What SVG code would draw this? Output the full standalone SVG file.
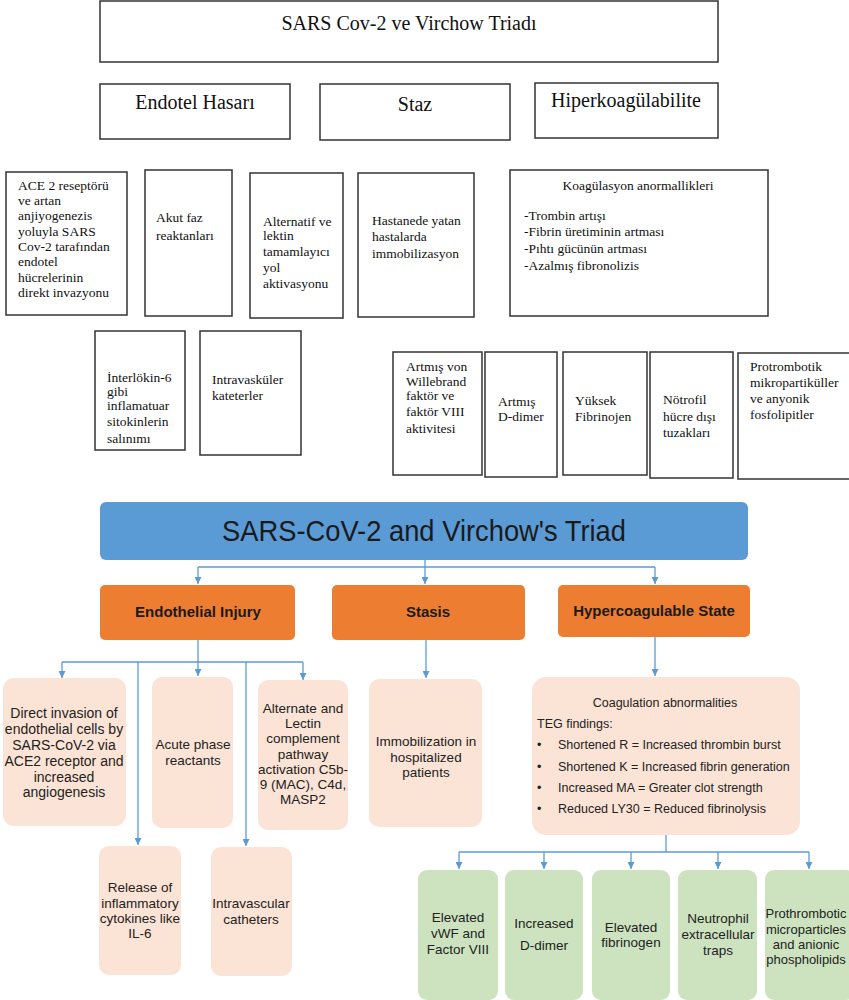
<svg xmlns="http://www.w3.org/2000/svg" width="849" height="1000" viewBox="0 0 849 1000">
<style>
.tb{fill:#fff;stroke:#333;stroke-width:1.5}
.tt{font-family:"Liberation Serif","Times New Roman",serif;font-size:20px;fill:#111}
.ts{font-family:"Liberation Serif","Times New Roman",serif;font-size:13.5px;fill:#111}
.en{font-family:"Liberation Sans",Arial,sans-serif;font-size:13.5px;fill:#222;text-anchor:middle}
.el{font-family:"Liberation Sans",Arial,sans-serif;font-size:12.5px;fill:#222}
.peach{fill:#fbe4d5}
.green{fill:#cde3bf}
.orange{fill:#ed7d31}
.ob{font-family:"Liberation Sans",Arial,sans-serif;font-size:15px;font-weight:bold;fill:#1a1a1a;text-anchor:middle}
.con{fill:none;stroke:#5b9bd5;stroke-width:1.3}
.arr{fill:none;stroke:#5b9bd5;stroke-width:1.3;marker-end:url(#ah)}
</style>
<defs>
<marker id="ah" viewBox="0 0 10 10" refX="10" refY="5" markerWidth="7" markerHeight="7" markerUnits="userSpaceOnUse" orient="auto">
<path d="M0,0 L10,5 L0,10 Z" fill="#5b9bd5"/>
</marker>
</defs>

<!-- Turkish section -->
<g id="tr-title"><rect class="tb" x="100" y="1" width="618" height="61"/><text class="tt" x="409" y="30" text-anchor="middle">SARS Cov-2 ve Virchow Triadı</text></g>
<g id="tr-endotel"><rect class="tb" x="100" y="84" width="190" height="55"/><text class="tt" x="195" y="109" text-anchor="middle">Endotel Hasarı</text></g>
<g id="tr-staz"><rect class="tb" x="320" y="84" width="190" height="56"/><text class="tt" x="415" y="111" text-anchor="middle">Staz</text></g>
<g id="tr-hiper"><rect class="tb" x="535" y="83" width="183" height="55"/><text class="tt" x="626" y="107" text-anchor="middle">Hiperkoagülabilite</text></g>

<g id="tr-ace"><rect class="tb" x="6" y="172" width="121" height="143"/>
<text class="ts"><tspan x="18" y="190">ACE 2 reseptörü</tspan><tspan x="18" y="205">ve artan</tspan><tspan x="18" y="220">anjiyogenezis</tspan><tspan x="18" y="236">yoluyla SARS</tspan><tspan x="18" y="251">Cov-2 tarafından</tspan><tspan x="18" y="266">endotel</tspan><tspan x="18" y="282">hücrelerinin</tspan><tspan x="18" y="297">direkt invazyonu</tspan></text></g>
<g id="tr-akut"><rect class="tb" x="145" y="170" width="87" height="146"/>
<text class="ts"><tspan x="156" y="222">Akut faz</tspan><tspan x="156" y="240">reaktanları</tspan></text></g>
<g id="tr-alternatif"><rect class="tb" x="250" y="173" width="93" height="145"/>
<text class="ts"><tspan x="263" y="226">Alternatif ve</tspan><tspan x="263" y="240">lektin</tspan><tspan x="263" y="256">tamamlayıcı</tspan><tspan x="263" y="272">yol</tspan><tspan x="263" y="288">aktivasyonu</tspan></text></g>
<g id="tr-hastane"><rect class="tb" x="358" y="173" width="116" height="144"/>
<text class="ts"><tspan x="372" y="225">Hastanede yatan</tspan><tspan x="372" y="241">hastalarda</tspan><tspan x="372" y="258">immobilizasyon</tspan></text></g>
<g id="tr-koag"><rect class="tb" x="510" y="170" width="258" height="146"/>
<text class="ts"><tspan x="638" y="190" text-anchor="middle">Koagülasyon anormallikleri</tspan><tspan x="524" y="220">-Trombin artışı</tspan><tspan x="524" y="236">-Fibrin üretiminin artması</tspan><tspan x="524" y="253">-Pıhtı gücünün artması</tspan><tspan x="524" y="270">-Azalmış fibronolizis</tspan></text></g>

<g id="tr-interlokin"><rect class="tb" x="95" y="331" width="90" height="119"/>
<text class="ts"><tspan x="107" y="382">İnterlökin-6</tspan><tspan x="107" y="396">gibi</tspan><tspan x="107" y="410">inflamatuar</tspan><tspan x="107" y="426">sitokinlerin</tspan><tspan x="107" y="443">salınımı</tspan></text></g>
<g id="tr-kateter"><rect class="tb" x="200" y="331" width="101" height="124"/>
<text class="ts"><tspan x="212" y="384">Intravasküler</tspan><tspan x="212" y="400">kateterler</tspan></text></g>

<g id="tr-vwf"><rect class="tb" x="393" y="352" width="89" height="123"/>
<text class="ts"><tspan x="406" y="371">Artmış von</tspan><tspan x="406" y="386">Willebrand</tspan><tspan x="406" y="400">faktör ve</tspan><tspan x="406" y="416">faktör VIII</tspan><tspan x="406" y="433">aktivitesi</tspan></text></g>
<g id="tr-ddimer"><rect class="tb" x="485" y="352" width="72" height="125"/>
<text class="ts"><tspan x="498" y="406">Artmış</tspan><tspan x="498" y="421">D-dimer</tspan></text></g>
<g id="tr-fibrinojen"><rect class="tb" x="563" y="352" width="84" height="123"/>
<text class="ts"><tspan x="575" y="405">Yüksek</tspan><tspan x="575" y="421">Fibrinojen</tspan></text></g>
<g id="tr-notrofil"><rect class="tb" x="650" y="352" width="83" height="126"/>
<text class="ts"><tspan x="663" y="404">Nötrofil</tspan><tspan x="663" y="421">hücre dışı</tspan><tspan x="663" y="437">tuzakları</tspan></text></g>
<g id="tr-protrombotik"><rect class="tb" x="738" y="353" width="113" height="126"/>
<text class="ts"><tspan x="750" y="371">Protrombotik</tspan><tspan x="750" y="387">mikropartiküller</tspan><tspan x="750" y="403">ve anyonik</tspan><tspan x="750" y="419">fosfolipitler</tspan></text></g>

<!-- English section connectors -->
<g id="connectors">
<path class="con" d="M425,560 V567 M198,567 H655"/>
<path class="arr" d="M198,567 V584"/>
<path class="arr" d="M425,567 V584"/>
<path class="arr" d="M655,567 V584"/>
<path class="con" d="M198,640 V662 M62,662 H303"/>
<path class="arr" d="M62,662 V678"/>
<path class="arr" d="M198,662 V676"/>
<path class="arr" d="M303,662 V680"/>
<path class="arr" d="M138,662 V845"/>
<path class="arr" d="M246,662 V846"/>
<path class="arr" d="M426,640 V678"/>
<path class="arr" d="M655,637 V676"/>
<path class="con" d="M666,835 V852 M459,852 H809"/>
<path class="arr" d="M459,852 V869"/>
<path class="arr" d="M544,852 V869"/>
<path class="arr" d="M631,852 V869"/>
<path class="arr" d="M718,852 V869"/>
<path class="arr" d="M809,852 V869"/>
</g>

<g id="en-title"><rect x="100" y="502" width="648" height="58" rx="6" fill="#5b9bd5"/>
<text x="424" y="541" font-family="'Liberation Sans',Arial,sans-serif" font-size="30" fill="#1a1a1a" text-anchor="middle" textLength="404" lengthAdjust="spacingAndGlyphs">SARS-CoV-2 and Virchow's Triad</text></g>
<g id="en-endothelial"><rect class="orange" x="100" y="585" width="195" height="55" rx="5"/><text class="ob" x="198" y="617">Endothelial Injury</text></g>
<g id="en-stasis"><rect class="orange" x="332" y="585" width="193" height="55" rx="5"/><text class="ob" x="428" y="617">Stasis</text></g>
<g id="en-hyper"><rect class="orange" x="558" y="585" width="192" height="52" rx="5"/><text class="ob" x="654" y="616">Hypercoagulable State</text></g>

<g id="en-direct"><rect class="peach" x="3" y="678" width="123" height="148" rx="11"/>
<text class="en" style="font-size:14px"><tspan x="64" y="718">Direct invasion of</tspan><tspan x="64" y="734">endothelial cells by</tspan><tspan x="64" y="750">SARS-CoV-2 via</tspan><tspan x="64" y="766">ACE2 receptor and</tspan><tspan x="64" y="782">increased</tspan><tspan x="64" y="797">angiogenesis</tspan></text></g>
<g id="en-acute"><rect class="peach" x="152" y="677" width="81" height="151" rx="10"/>
<text class="en"><tspan x="193" y="749">Acute phase</tspan><tspan x="193" y="765">reactants</tspan></text></g>
<g id="en-alternate"><rect class="peach" x="258" y="680" width="90" height="150" rx="10"/>
<text class="en"><tspan x="303" y="713">Alternate and</tspan><tspan x="303" y="728">Lectin</tspan><tspan x="303" y="743">complement</tspan><tspan x="303" y="759">pathway</tspan><tspan x="303" y="774">activation C5b-</tspan><tspan x="303" y="789">9 (MAC), C4d,</tspan><tspan x="303" y="804">MASP2</tspan></text></g>
<g id="en-release"><rect class="peach" x="99" y="846" width="82" height="129" rx="10"/>
<text class="en"><tspan x="140" y="892">Release of</tspan><tspan x="140" y="908">inflammatory</tspan><tspan x="140" y="923">cytokines like</tspan><tspan x="140" y="938">IL-6</tspan></text></g>
<g id="en-catheters"><rect class="peach" x="211" y="847" width="81" height="129" rx="10"/>
<text class="en"><tspan x="251" y="908">Intravascular</tspan><tspan x="251" y="924">catheters</tspan></text></g>
<g id="en-immobilization"><rect class="peach" x="369" y="679" width="113" height="148" rx="10"/>
<text class="en"><tspan x="426" y="746">Immobilization in</tspan><tspan x="426" y="762">hospitalized</tspan><tspan x="426" y="777">patients</tspan></text></g>
<g id="en-coag"><rect class="peach" x="532" y="677" width="268" height="158" rx="14"/>
<text class="el"><tspan x="665" y="707" text-anchor="middle">Coagulation abnormalities</tspan><tspan x="537" y="728">TEG findings:</tspan>
<tspan x="537" y="749">•</tspan><tspan x="558" y="749">Shortened R = Increased thrombin burst</tspan>
<tspan x="537" y="771">•</tspan><tspan x="558" y="771">Shortened K = Increased fibrin generation</tspan>
<tspan x="537" y="792">•</tspan><tspan x="558" y="792">Increased MA = Greater clot strength</tspan>
<tspan x="537" y="813">•</tspan><tspan x="558" y="813">Reduced LY30 = Reduced fibrinolysis</tspan></text></g>

<g id="en-vwf"><rect class="green" x="418" y="870" width="80" height="130" rx="9"/>
<text class="en"><tspan x="458" y="922">Elevated</tspan><tspan x="458" y="938">vWF and</tspan><tspan x="458" y="954">Factor VIII</tspan></text></g>
<g id="en-ddimer"><rect class="green" x="505" y="870" width="78" height="130" rx="9"/>
<text class="en"><tspan x="544" y="928">Increased</tspan><tspan x="544" y="950">D-dimer</tspan></text></g>
<g id="en-fibrinogen"><rect class="green" x="592" y="870" width="78" height="130" rx="9"/>
<text class="en"><tspan x="631" y="932">Elevated</tspan><tspan x="631" y="947">fibrinogen</tspan></text></g>
<g id="en-net"><rect class="green" x="678" y="870" width="79" height="130" rx="9"/>
<text class="en"><tspan x="718" y="923">Neutrophil</tspan><tspan x="718" y="939">extracellular</tspan><tspan x="718" y="955">traps</tspan></text></g>
<g id="en-prothrombotic"><rect class="green" x="765" y="870" width="90" height="130" rx="9"/>
<text class="en" style="font-size:13px"><tspan x="806" y="918">Prothrombotic</tspan><tspan x="806" y="934">microparticles</tspan><tspan x="806" y="949">and anionic</tspan><tspan x="806" y="964">phospholipids</tspan></text></g>
</svg>
